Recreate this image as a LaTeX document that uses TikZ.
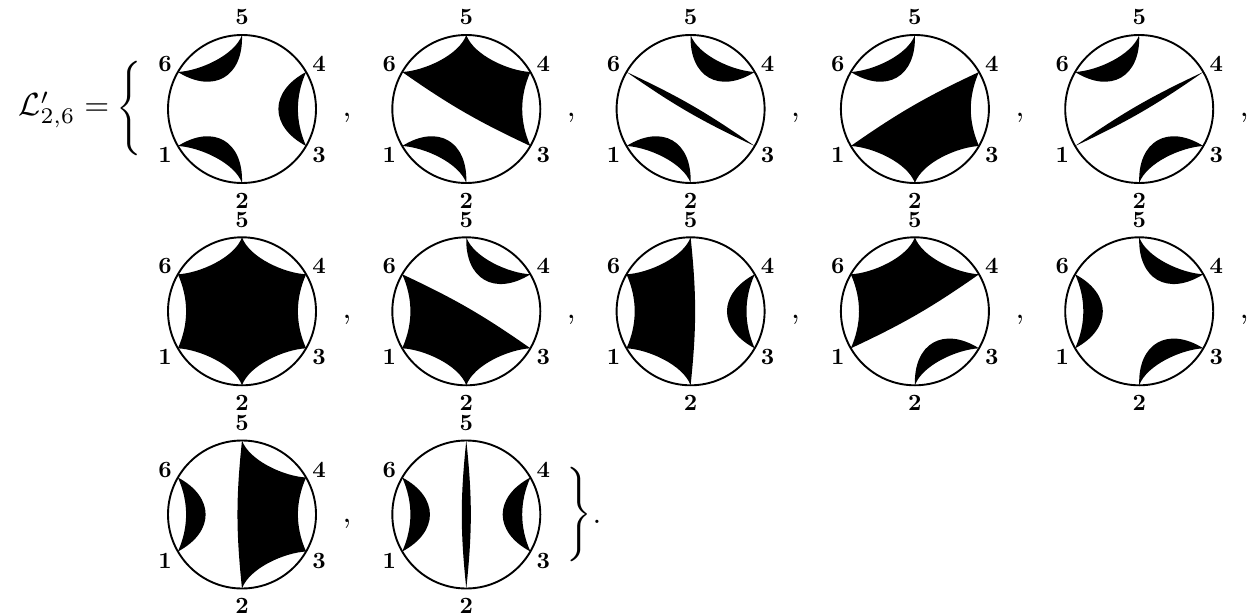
\documentclass[tikz,border=0pt]{standalone}
\tikzset{
  x=1pt,y=1pt,
  ring/.style={draw=black,line width=1.9pt,fill=none},
  ink/.style={fill=black,draw=none},
  m65/.style={out=3,in=-110,looseness=.75},
  m56/.style={out=-110,in=3,looseness=.75},
  m54/.style={out=-70,in=177,looseness=.75},
  m45/.style={out=177,in=-70,looseness=.75},
  m43/.style={bend right=24,looseness=.93},
  m34/.style={bend left=24,looseness=.93},
  m32/.style={out=183,in=70,looseness=.75},
  m23/.style={out=70,in=183,looseness=.75},
  m21/.style={out=110,in=-3,looseness=.75},
  m12/.style={out=-3,in=110,looseness=.75},
  m16/.style={bend right=24,looseness=.93},
  m61/.style={bend left=24,looseness=.93},
  deep/.style={bend right=62,looseness=1.45},
  chord/.style={bend left=5},
  chordv/.style={bend left=6},
  numeral/.style={font=\bfseries,inner sep=0pt,scale=2.33},
  mathnode/.style={inner sep=0pt,scale=3.15}
}
% #1 x, #2 y (from the top), #3 filled shapes
\newcommand{\disc}[3]{%
  \begin{scope}[shift={(#1,614-#2)}]
    \coordinate (p5) at (90:74);
    \coordinate (p4) at (30:74);
    \coordinate (p3) at (-30:74);
    \coordinate (p2) at (-90:74);
    \coordinate (p1) at (-150:74);
    \coordinate (p6) at (150:74);
    #3
    \node[ring,circle,minimum size=148pt,inner sep=0pt] (c) at (0,0) {};
    \node[numeral] (n5) at (0,91.5) {5};
    \node[numeral] (n2) at (0,-91.5) {2};
    \node[numeral] (n6) at (-77,45) {6};
    \node[numeral] (n4) at (77,45) {4};
    \node[numeral] (n1) at (-77,-46) {1};
    \node[numeral] (n3) at (77,-46) {3};
  \end{scope}}
% lens on clockwise-adjacent corners
\newcommand{\lens}[2]{\fill[ink] (p#1) to[deep] (p#2) to[m#2#1] (p#1) -- cycle;}
% thin lens across the disc
\newcommand{\thin}[2]{\fill[ink] (p#1) to[chord] (p#2) to[chord] (p#1) -- cycle;}
\begin{document}
\begin{tikzpicture}
\useasboundingbox (0,0) rectangle (1257,614);
\def\cA{242}\def\cB{466.3}\def\cC{690.6}\def\cD{914.9}\def\cE{1139.2}
\def\rA{109}\def\rB{311.3}\def\rC{514.5}
\disc{\cA}{\rA}{\lens65 \lens43 \lens21}
\disc{\cB}{\rA}{\fill[ink] (p6) to[m65] (p5) to[m54] (p4) to[m43] (p3) to[chord] (p6) -- cycle; \lens21}
\disc{\cC}{\rA}{\thin63 \lens54 \lens21}
\disc{\cD}{\rA}{\lens65 \fill[ink] (p4) to[m43] (p3) to[m32] (p2) to[m21] (p1) to[chord] (p4) -- cycle;}
\disc{\cE}{\rA}{\lens65 \thin14 \lens32}
\disc{\cA}{\rB}{\fill[ink] (p6) to[m65] (p5) to[m54] (p4) to[m43] (p3) to[m32] (p2) to[m21] (p1) to[m16] (p6) -- cycle;}
\disc{\cB}{\rB}{\lens54 \fill[ink] (p3) to[m32] (p2) to[m21] (p1) to[m16] (p6) to[chord] (p3) -- cycle;}
\disc{\cC}{\rB}{\lens43 \fill[ink] (p2) to[m21] (p1) to[m16] (p6) to[m65] (p5) to[chordv] (p2) -- cycle;}
\disc{\cD}{\rB}{\lens32 \fill[ink] (p1) to[m16] (p6) to[m65] (p5) to[m54] (p4) to[chord] (p1) -- cycle;}
\disc{\cE}{\rB}{\lens16 \lens54 \lens32}
\disc{\cA}{\rC}{\lens16 \fill[ink] (p5) to[m54] (p4) to[m43] (p3) to[m32] (p2) to[chordv] (p5) -- cycle;}
\disc{\cB}{\rC}{\lens16 \fill[ink] (p5) to[chordv] (p2) to[chordv] (p5) -- cycle; \lens43}
\node[mathnode,scale=1.016,anchor=base west] (lhs) at (18,614-116) {$\mathcal{L}'_{2,6} =$};
\node[mathnode] (lb) at (129.5,614-108.5) {$\Bigg\{$};
\node[mathnode] (rb) at (579,614-514.5) {$\Bigg\}$};
\node[mathnode,anchor=base] (dot) at (597,614-523) {.};
\foreach \px/\py in {347/109,571.3/109,795.6/109,1019.9/109,1244.2/109,347/311,571.3/311,795.6/311,1019.9/311,1244.2/311,347/515}
  \node[mathnode,anchor=base] at (\px,614-\py-7.5) {,};
\end{tikzpicture}
\end{document}
